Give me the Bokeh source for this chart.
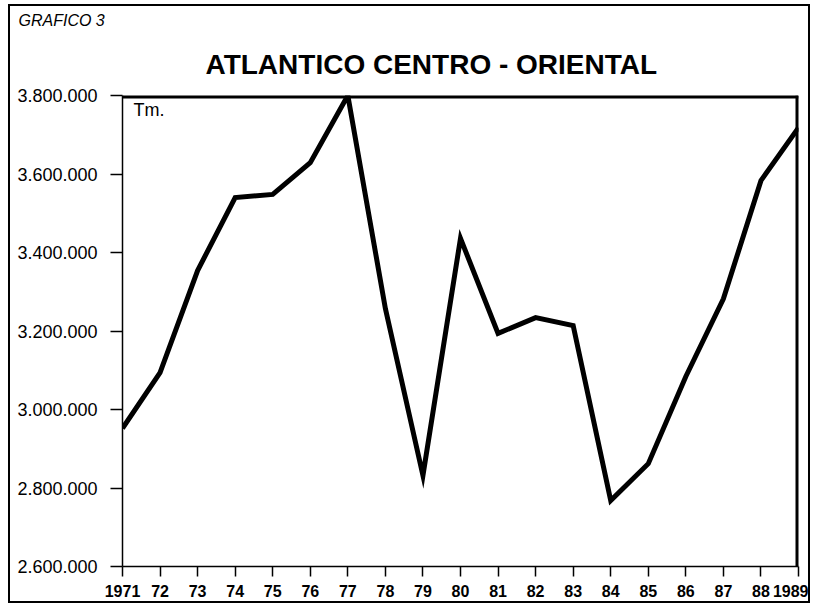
from bokeh.plotting import figure
from bokeh.models import FixedTicker, Span, Label, Range1d, Title
from bokeh.embed import file_html
from bokeh.resources import INLINE

# ---- data (Tm.) ----
years = [1971, 1972, 1973, 1974, 1975, 1976, 1977, 1978, 1979, 1980,
         1981, 1982, 1983, 1984, 1985, 1986, 1987, 1988, 1989]
catch_tm = [2952000, 3094000, 3354000, 3540000, 3548000, 3629000, 3800000,
            3257000, 2832000, 3436000, 3194000, 3234000, 3214000, 2768000,
            2862000, 3084000, 3282000, 3583000, 3718000]
x_tick_labels = ["1971", "72", "73", "74", "75", "76", "77", "78", "79", "80",
                 "81", "82", "83", "84", "85", "86", "87", "88", "1989"]
y_ticks = [2600000, 2800000, 3000000, 3200000, 3400000, 3600000, 3800000]
y_tick_labels = ["2.600.000", "2.800.000", "3.000.000", "3.200.000",
                 "3.400.000", "3.600.000", "3.800.000"]
title_text = "ATLANTICO CENTRO - ORIENTAL"
chart_tag = "GRAFICO 3"
unit_text = "Tm."

FONT = "Liberation Sans"

p = figure(width=802, height=599, output_backend="svg", toolbar_location=None,
           x_range=Range1d(years[0], years[-1]),
           y_range=Range1d(y_ticks[0], y_ticks[-1]),
           min_border_left=112, min_border_right=14,
           min_border_top=89, min_border_bottom=39)
p.styles = {"border": "2px solid black", "margin-left": "8px", "margin-top": "4px"}
p.background_fill_color = "white"
p.border_fill_color = "white"
p.outline_line_color = None
p.grid.grid_line_color = None

# tag (outermost) and main title (next to the frame)
p.title = Title(text=chart_tag, align="left", offset=-104, standoff=4,
                text_font=FONT, text_font_style="italic", text_font_size="16px",
                text_color="black")
p.add_layout(Title(text=title_text, align="left", offset=83, standoff=32,
                   text_font=FONT, text_font_style="bold", text_font_size="28px",
                   text_color="black"), "above")

# x axis
p.xaxis.ticker = FixedTicker(ticks=years)
p.xaxis.major_label_overrides = {y: l for y, l in zip(years, x_tick_labels)}
p.xaxis.major_label_text_font = FONT
p.xaxis.major_label_text_font_style = "bold"
p.xaxis.major_label_text_font_size = "16px"
p.xaxis.major_label_text_color = "black"
p.xaxis.major_tick_out = 10
p.xaxis.major_tick_in = 0
p.xaxis.minor_tick_line_color = None
p.xaxis.major_label_standoff = 8
p.xaxis.axis_line_width = 1.5
p.xaxis.major_tick_line_width = 1.5

# y axis
p.yaxis.ticker = FixedTicker(ticks=y_ticks)
p.yaxis.major_label_overrides = {v: l for v, l in zip(y_ticks, y_tick_labels)}
p.yaxis.major_label_text_font = FONT
p.yaxis.major_label_text_font_size = "18px"
p.yaxis.major_label_text_color = "black"
p.yaxis.major_tick_out = 12
p.yaxis.major_tick_in = 0
p.yaxis.minor_tick_line_color = None
p.yaxis.major_label_standoff = 13
p.yaxis.axis_line_width = 1.5
p.yaxis.major_tick_line_width = 1.5

# heavy frame lines on top and right
p.add_layout(Span(location=y_ticks[-1], dimension="width", line_color="black", line_width=6))
p.add_layout(Span(location=years[-1], dimension="height", line_color="black", line_width=6))

# data line
p.line(years, catch_tm, line_color="black", line_width=5, line_join="miter")

# unit label inside the frame
p.add_layout(Label(x=11, y=457, x_units="screen", y_units="screen", text=unit_text,
                   text_font=FONT, text_font_size="18px",
                   text_color="black", text_baseline="alphabetic"))

open("out.html", "w").write(file_html(p, INLINE))
